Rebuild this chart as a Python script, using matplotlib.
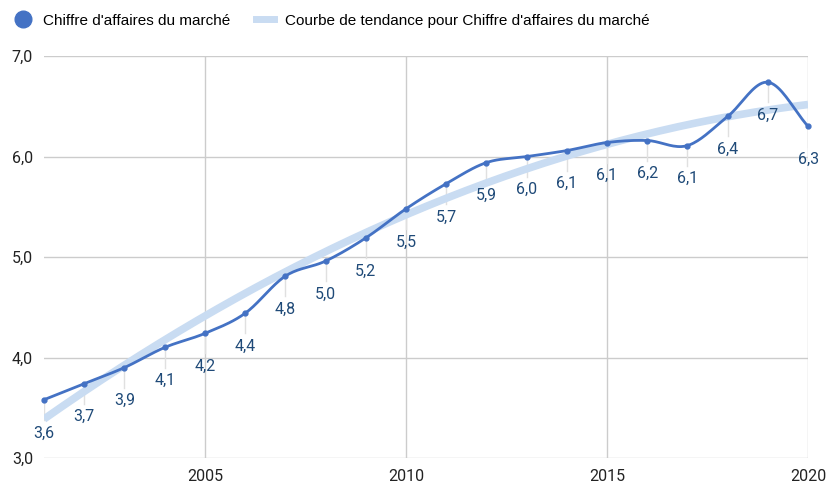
import numpy as np
import matplotlib.pyplot as plt
from matplotlib.lines import Line2D

years = [2001, 2002, 2003, 2004, 2005, 2006, 2007, 2008, 2009, 2010,
         2011, 2012, 2013, 2014, 2015, 2016, 2017, 2018, 2019, 2020]
ca = [3.58, 3.74, 3.90, 4.10, 4.24, 4.44, 4.81, 4.96, 5.19, 5.48,
      5.73, 5.94, 6.00, 6.06, 6.14, 6.16, 6.11, 6.40, 6.74, 6.30]
labels = ["3,6", "3,7", "3,9", "4,1", "4,2", "4,4", "4,8", "5,0", "5,2", "5,5",
          "5,7", "5,9", "6,0", "6,1", "6,1", "6,2", "6,1", "6,4", "6,7", "6,3"]
xticks = [2005, 2010, 2015, 2020]
yticks = [3, 4, 5, 6, 7]

LINE = "#4472c4"
TREND = "#c9dcf2"
LABEL = "#1f4a78"


def catmull(x, y, n=20):
    # smooth drawing path through the points
    x = np.asarray(x, float)
    y = np.asarray(y, float)
    px = np.concatenate([[2 * x[0] - x[1]], x, [2 * x[-1] - x[-2]]])
    py = np.concatenate([[2 * y[0] - y[1]], y, [2 * y[-1] - y[-2]]])
    ox, oy = [], []
    for i in range(1, len(px) - 2):
        t = np.linspace(0, 1, n, endpoint=False)
        for arr, out in ((px, ox), (py, oy)):
            p0, p1, p2, p3 = arr[i - 1], arr[i], arr[i + 1], arr[i + 2]
            out.extend(0.5 * ((2 * p1) + (-p0 + p2) * t +
                              (2 * p0 - 5 * p1 + 4 * p2 - p3) * t ** 2 +
                              (-p0 + 3 * p1 - 3 * p2 + p3) * t ** 3))
    ox.append(x[-1])
    oy.append(y[-1])
    return np.array(ox), np.array(oy)


fig = plt.figure(figsize=(8.27, 4.83), dpi=100)
ax = fig.add_axes([0.0532, 0.0518, 0.924, 0.832])

# trend line (polynomial fit of the series)
coef = np.polyfit(years, ca, 2)
tx = np.linspace(years[0], years[-1], 200)
ax.plot(tx, np.polyval(coef, tx), color=TREND, lw=5.5, solid_capstyle="butt", zorder=2)

sx, sy = catmull(years, ca)
ax.plot(sx, sy, color=LINE, lw=2, zorder=3, clip_on=False)
ax.plot(years, ca, "o", color=LINE, ms=3.5, zorder=4, clip_on=False)

for x, y, lab in zip(years, ca, labels):
    ax.plot([x, x], [y, y - 0.2], color="#e0e0e0", lw=1, zorder=1)
    ax.text(x, y - 0.33, lab, ha="center", va="center", color=LABEL,
            fontsize=11.5, family="Roboto", zorder=5)

ax.set_xlim(years[0], years[-1])
ax.set_ylim(3, 7)
ax.set_xticks(xticks)
ax.set_yticks(yticks)
ax.set_yticklabels([f"{v},0" for v in yticks])
ax.grid(True, color="#cccccc", lw=1)
ax.set_axisbelow(True)
for s in ax.spines.values():
    s.set_visible(False)
ax.tick_params(length=0, labelsize=11.5, labelcolor="#222222", pad=8)
for t in ax.get_xticklabels() + ax.get_yticklabels():
    t.set_family("Roboto")

handles = [
    Line2D([], [], marker="o", color=LINE, lw=0, ms=12),
    Line2D([], [], color=TREND, lw=5),
]
fig.legend(handles, ["Chiffre d'affaires du marché",
                     "Courbe de tendance pour Chiffre d'affaires du marché"],
           loc="upper left", bbox_to_anchor=(0.0, 1.0), ncol=2, frameon=False,
           prop={"family": "Liberation Sans", "size": 11.0},
           handlelength=1.2, handletextpad=0.7, columnspacing=1.7)

fig.savefig("out.png", dpi=100)
